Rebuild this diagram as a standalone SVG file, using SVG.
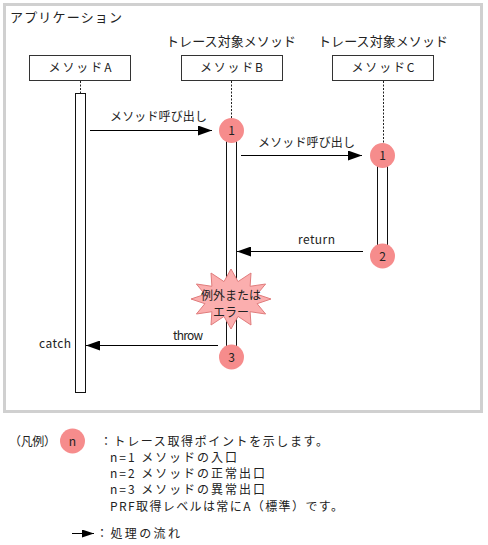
<svg xmlns="http://www.w3.org/2000/svg" width="488" height="545" viewBox="0 0 488 545">
<defs>
<marker id="ah" markerUnits="userSpaceOnUse" viewBox="0 0 14 10" refX="14" refY="5" markerWidth="14" markerHeight="10" orient="auto">
<path d="M0,0 L14,5 L0,10 Z" fill="#000"/>
</marker>
<marker id="ahs" markerUnits="userSpaceOnUse" viewBox="0 0 12 8" refX="12" refY="4" markerWidth="12" markerHeight="8" orient="auto">
<path d="M0,0 L12,4 L0,8 Z" fill="#000"/>
</marker>
<style>
text{font-family:"Noto Sans CJK JP","DejaVu Sans",sans-serif;font-size:12px;fill:#222}
.c{text-anchor:middle}
.big{font-size:13px}
.box{fill:#fff;stroke:#333;stroke-width:1}
.act{fill:#fff;stroke:#111;stroke-width:1}
.life{stroke:#222;stroke-width:1;stroke-dasharray:2,1.5}
.msg{stroke:#000;stroke-width:1;fill:none;marker-end:url(#ah)}
.pt{fill:#f68c8c}
</style>
</defs>
<rect x="4.5" y="4.5" width="477" height="407" fill="#fff" stroke="#d0d0d0" stroke-width="3"/>
<text class="big" x="10" y="22" textLength="112">アプリケーション</text>
<text class="c big" x="231" y="46" textLength="130">トレース対象メソッド</text>
<text class="c big" x="383" y="46" textLength="130">トレース対象メソッド</text>

<g id="methodA">
<rect class="box" x="29.5" y="55.5" width="101" height="25"/>
<text class="c" x="80" y="72" textLength="63">メソッドA</text>
<line class="life" x1="80.5" y1="81" x2="80.5" y2="93"/>
<rect class="act" x="75.5" y="93.5" width="10" height="299"/>
</g>
<g id="methodB">
<rect class="box" x="181.5" y="55.5" width="101" height="25"/>
<text class="c" x="231.5" y="72" textLength="63">メソッドB</text>
<line class="life" x1="231.5" y1="81" x2="231.5" y2="118"/>
<rect class="act" x="226.5" y="130.5" width="10" height="226"/>
</g>
<g id="methodC">
<rect class="box" x="332.5" y="55.5" width="101" height="25"/>
<text class="c" x="383" y="72" textLength="63">メソッドC</text>
<line class="life" x1="383.5" y1="81" x2="383.5" y2="145"/>
<rect class="act" x="377.5" y="155.5" width="10" height="101"/>
</g>

<g id="connectors">
<line class="msg" x1="90" y1="130.5" x2="212" y2="130.5"/>
<text class="c" x="158.5" y="121" textLength="97">メソッド呼び出し</text>
<line class="msg" x1="241" y1="155.5" x2="362" y2="155.5"/>
<text class="c" x="306.5" y="147" textLength="97">メソッド呼び出し</text>
<line class="msg" x1="363" y1="251.5" x2="237" y2="251.5"/>
<text class="c" x="316.5" y="244" textLength="37">return</text>
<line class="msg" x1="218" y1="345.5" x2="86" y2="345.5"/>
<text class="c" x="188" y="340" textLength="30">throw</text>
<text x="39" y="348" textLength="32">catch</text>
</g>

<g id="error">
<polygon points="231,269 238,281.6 251,273 250.1,286.3 265.6,284 257.1,294.3 271,299 257.1,303.7 265.6,314 250.1,311.7 251,325 238,316.4 231,329 224,316.4 211,325 211.9,311.7 196.4,314 204.9,303.7 191,299 204.9,294.3 196.4,284 211.9,286.3 211,273 224,281.6" fill="#fbaeae" stroke="#e07c7c" stroke-width="1"/>
<text class="c" x="231" y="300">例外または</text>
<text class="c" x="231" y="317">エラー</text>
</g>

<g id="pointB1"><circle class="pt" cx="231.5" cy="130.5" r="12.5"/><text class="c" x="231.5" y="135">1</text></g>
<g id="pointC1"><circle class="pt" cx="382.5" cy="155.5" r="12.5"/><text class="c" x="382.5" y="160">1</text></g>
<g id="pointC2"><circle class="pt" cx="382.5" cy="256" r="12.5"/><text class="c" x="382.5" y="260.5">2</text></g>
<g id="pointB3"><circle class="pt" cx="231.5" cy="357" r="12.5"/><text class="c" x="231.5" y="361.5">3</text></g>

<g id="legend">
<text x="9" y="446" textLength="47">（凡例）</text>
<circle class="pt" cx="72.5" cy="441" r="12.5"/>
<text class="c" x="72.5" y="445.5">n</text>
<text x="100" y="446" textLength="228">：トレース取得ポイントを示します。</text>
<text x="110" y="462" textLength="127">n=1 メソッドの入口</text>
<text x="110" y="478" textLength="155">n=2 メソッドの正常出口</text>
<text x="110" y="494" textLength="155">n=3 メソッドの異常出口</text>
<text x="110" y="511" textLength="233">PRF取得レベルは常にA（標準）です。</text>
<line x1="72" y1="533.5" x2="94" y2="533.5" stroke="#000" stroke-width="1" marker-end="url(#ahs)"/>
<text x="96" y="538" textLength="84">：処理の流れ</text>
</g>
</svg>
